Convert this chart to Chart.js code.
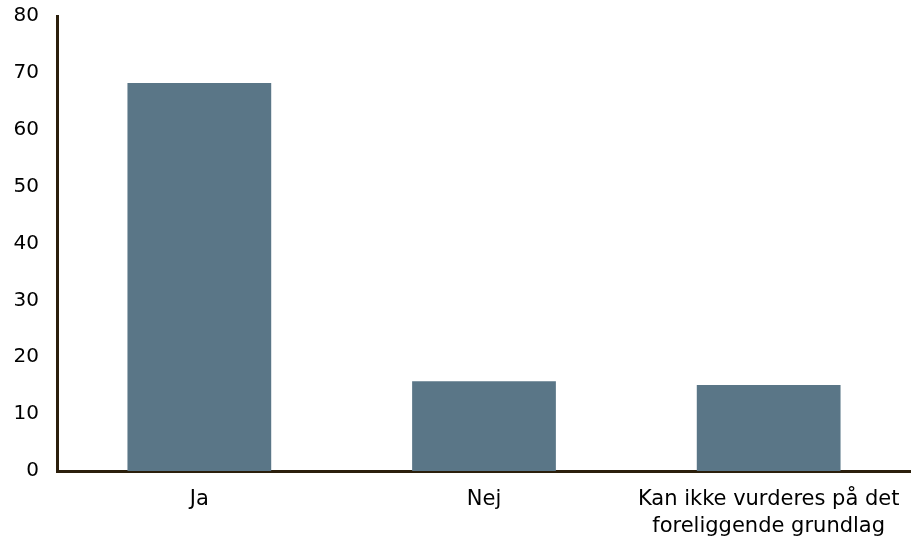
<!DOCTYPE html>
<html>
<head>
<meta charset="utf-8">
<script src="https://cdn.jsdelivr.net/npm/chart.js@4/dist/chart.umd.min.js"></script>
<style>
html,body{margin:0;padding:0;background:#fff;}
#wrap{width:911px;height:539px;position:relative;}
</style>
</head>
<body>
<div id="wrap"><canvas id="c" width="911" height="539"></canvas></div>
<script>
const categories = ["Ja", "Nej", ["Kan ikke vurderes på det", "foreliggende grundlag"]];
const values = [68.2, 15.8, 15.1];
const yTicks = [0, 10, 20, 30, 40, 50, 60, 70, 80];

const axisColor = "#2b1f0c";
const barColor = "#5a7687";
const xFont = { family: "DejaVu Sans, Verdana, sans-serif", size: 21, lineHeight: 1.24 };
const yFont = { family: "DejaVu Sans, Verdana, sans-serif", size: 20 };

new Chart(document.getElementById("c"), {
  type: "bar",
  data: {
    labels: categories,
    datasets: [{ data: values, backgroundColor: barColor, borderWidth: 0, barPercentage: 1.0, categoryPercentage: 0.505 }]
  },
  options: {
    responsive: false,
    animation: false,
    devicePixelRatio: 1,
    layout: { padding: 0 },
    plugins: { legend: { display: false }, tooltip: { enabled: false } },
    scales: {
      x: {
        grid: { display: false, drawTicks: false },
        border: { display: true, color: axisColor, width: 3 },
        ticks: { color: "#000", font: xFont, padding: 16, maxRotation: 0, autoSkip: false },
        afterFit: (s) => { s.height = 68; s.paddingLeft = 0; s.paddingRight = 0; }
      },
      y: {
        min: 0, max: 80,
        afterBuildTicks: (s) => { s.ticks = yTicks.map(v => ({ value: v })); },
        grid: { display: false, drawTicks: false },
        border: { display: true, color: axisColor, width: 3 },
        ticks: { color: "#000", font: yFont, padding: 18 },
        afterFit: (s) => { s.width = 57; s.paddingTop = 16; s.paddingBottom = 0; }
      }
    }
  }
});
</script>
</body>
</html>
